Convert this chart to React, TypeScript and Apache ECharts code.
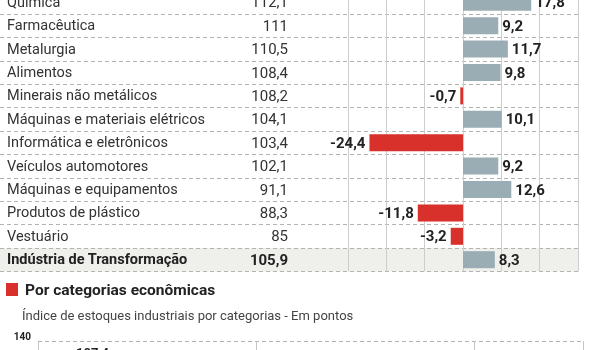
import React, { useEffect, useRef } from 'react';
import * as echarts from 'echarts';

const sectors = [
  'Química',
  'Farmacêutica',
  'Metalurgia',
  'Alimentos',
  'Minerais não metálicos',
  'Máquinas e materiais elétricos',
  'Informática e eletrônicos',
  'Veículos automotores',
  'Máquinas e equipamentos',
  'Produtos de plástico',
  'Vestuário',
  'Indústria de Transformação',
];
const stockIndex = [112.1, 111, 110.5, 108.4, 108.2, 104.1, 103.4, 102.1, 91.1, 88.3, 85, 105.9];
const variation = [17.8, 9.2, 11.7, 9.8, -0.7, 10.1, -24.4, 9.2, 12.6, -11.8, -3.2, 8.3];
const variationMin = -30;
const variationMax = 30;
const variationStep = 10;

const categoryTitle = 'Por categorias econômicas';
const categorySubtitle = 'Índice de estoques industriais por categorias - Em pontos';
const bottomCategories = ['Bens de capital', 'Bens intermediários', 'Bens de consumo duráveis', 'Bens semi e não duráveis', 'Geral'];
const bottomValues: (number | null)[] = [107.4, null, null, null, null];
const bottomMin = 0;
const bottomMax = 140;
const bottomStep = 70;

const BLUE = '#9badb4';
const RED = '#d8302b';
const fmt = (n: number | string) => String(n).replace('.', ',');

export default function App() {
  const ref = useRef<HTMLDivElement>(null);
  useEffect(() => {
    if (!ref.current) return;
    const chart = echarts.init(ref.current, undefined, { renderer: 'svg' });
    const last = sectors.length - 1;
    chart.setOption({
      animation: false,
      textStyle: { fontFamily: 'Roboto' },
      grid: [
        { left: 348, top: -9.4, width: 230, height: 280.8, outerBoundsMode: 'none', containLabel: false },
        { left: 0, top: -9.4, width: 578, height: 280.8, outerBoundsMode: 'none', containLabel: false },
        { left: 38, top: 341, width: 545, height: 98.8, outerBoundsMode: 'none', containLabel: false },
      ],
      xAxis: [
        {
          gridIndex: 0, type: 'value', min: variationMin, max: variationMax, interval: variationStep,
          axisLabel: { show: false }, axisLine: { show: false }, axisTick: { show: false },
          splitLine: { show: true, lineStyle: { color: '#cdcdcd', width: 1 } }, z: 2,
        },
        { gridIndex: 1, type: 'value', min: 0, max: 1, show: false },
        {
          gridIndex: 2, type: 'category', data: bottomCategories, boundaryGap: true,
          axisLine: { show: false }, axisTick: { show: false }, axisLabel: { show: false },
          splitLine: { show: true, lineStyle: { color: '#c4c4c4' } },
        },
      ],
      yAxis: [
        {
          gridIndex: 0, type: 'category', data: sectors, inverse: true, position: 'left',
          axisLine: { show: false }, axisTick: { show: false }, splitLine: { show: false },
          axisLabel: {
            align: 'left', margin: 341, fontSize: 14.5, color: '#333',
            formatter: (v: string, i: number) => (i === last ? `{b|${v}}` : v),
            rich: { b: { fontSize: 14.5, fontWeight: 'bold', color: '#222' } },
          },
          z: 3,
        },
        {
          gridIndex: 0, type: 'category', data: stockIndex.map(String), inverse: true, position: 'left', offset: 0,
          axisLine: { show: false }, axisTick: { show: false }, splitLine: { show: false },
          axisLabel: {
            align: 'right', margin: 60, fontSize: 15, color: '#333',
            formatter: (v: string, i: number) => (i === last ? `{b|${fmt(v)}}` : fmt(v)),
            rich: { b: { fontSize: 15, fontWeight: 'bold', color: '#222' } },
          },
          z: 3,
        },
        {
          gridIndex: 1, type: 'category', data: sectors, inverse: true,
          axisLine: { show: false }, axisTick: { show: false }, axisLabel: { show: false },
          splitLine: { show: true, lineStyle: { color: '#b3b3b3', type: [4, 3] } },
          splitArea: {
            show: true,
            areaStyle: { color: sectors.map((_, i) => (i === last ? '#efefec' : 'rgba(255,255,255,0)')) },
          },
          z: 0,
        },
        {
          gridIndex: 2, type: 'value', min: bottomMin, max: bottomMax, interval: bottomStep,
          axisLine: { show: true, lineStyle: { color: '#c4c4c4' } }, axisTick: { show: false },
          splitLine: { show: true, lineStyle: { color: '#b3b3b3', type: [4, 3] } },
          axisLabel: { fontSize: 10, fontWeight: 'bold', color: '#222', margin: 7, verticalAlign: 'bottom' },
        },
      ],
      series: [
        {
          type: 'bar', xAxisIndex: 0, yAxisIndex: 0, barWidth: 17, z: 3,
          data: variation.map((v) => ({
            value: v,
            itemStyle: { color: v < 0 ? RED : BLUE },
            label: { position: v < 0 ? 'left' : 'right' },
          })),
          label: {
            show: true, distance: 4, fontSize: 15, fontWeight: 'bold', color: '#222',
            formatter: (p: any) => fmt(p.value),
          },
        },
        {
          type: 'bar', xAxisIndex: 2, yAxisIndex: 3, barWidth: 40,
          data: bottomValues,
          itemStyle: { color: BLUE },
          label: {
            show: true, position: 'top', distance: 5, fontSize: 13, fontWeight: 'bold', color: '#222',
            formatter: (p: any) => fmt(p.value),
          },
        },
      ],
      graphic: [
        { type: 'rect', shape: { x: 6, y: 283, width: 12, height: 13 }, style: { fill: RED } },
        {
          type: 'text', x: 25, y: 290,
          style: { text: categoryTitle, fontSize: 15.5, fontWeight: 'bold', fontFamily: 'Roboto', fill: '#222', verticalAlign: 'middle' },
        },
        {
          type: 'text', x: 22, y: 315,
          style: { text: categorySubtitle, fontSize: 13, fontFamily: 'Roboto', fill: '#444', verticalAlign: 'middle' },
        },
      ],
    });
    return () => chart.dispose();
  }, []);
  return <div ref={ref} style={{ position: 'fixed', left: 0, top: 0, width: 591, height: 350 }} />;
}
